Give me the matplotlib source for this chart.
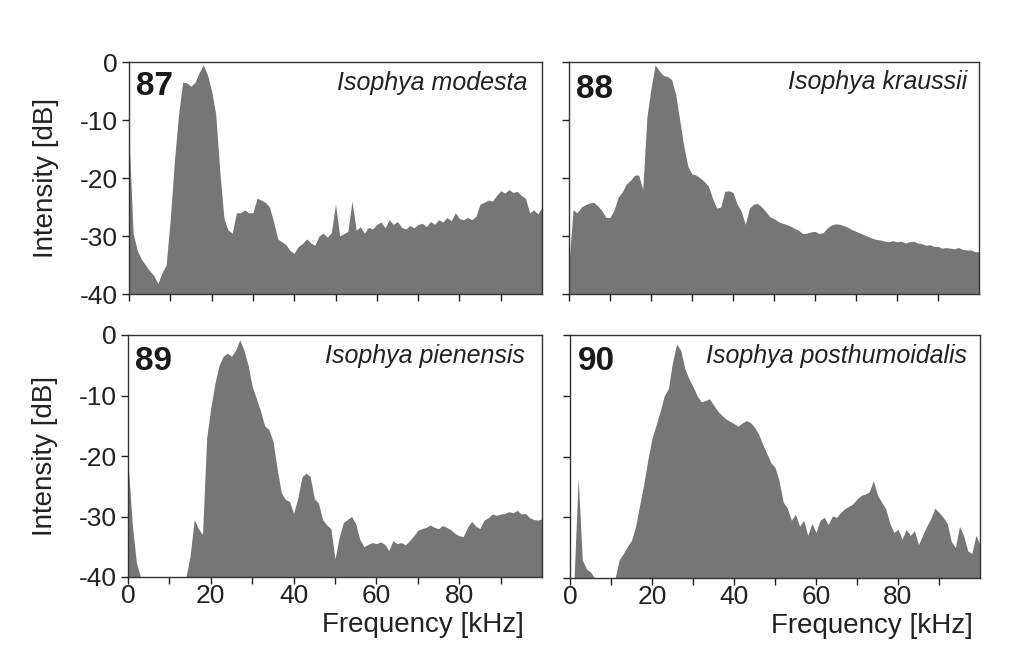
import numpy as np
import matplotlib
matplotlib.use("Agg")
import matplotlib.pyplot as plt

plt.rcParams['font.family'] = ['Liberation Sans', 'DejaVu Sans']
plt.rcParams['axes.unicode_minus'] = False

# frequency grid, kHz (one reading per kHz)
freq = np.arange(0, 101)

# 87 - Isophya modesta
modesta = [-13, -29.5, -32.5, -34, -35, -36, -36.8, -38.2, -36.3, -35,
           -27, -17, -9, -3.5, -3.6, -4.2, -3.5, -1.8, -0.5, -2.2,
           -5, -9, -19, -27, -29, -29.5, -26, -26, -25.5, -26,
           -26, -23.5, -23.8, -24.2, -25, -27.5, -30.5, -31, -31.5, -32.5,
           -33, -31.8, -31.3, -30.5, -31.2, -31.6, -30, -29.5, -30.2, -29.4,
           -24.5, -30, -29.6, -29.2, -24, -29, -28.4, -29.5, -28.5, -28.8,
           -28, -27.6, -28.6, -27.2, -28, -27.5, -28.5, -28.8, -28.2, -28.6,
           -28, -27.8, -28.4, -27.5, -28, -27.2, -27.6, -26.8, -27.4, -26,
           -27, -27.2, -26.8, -27.2, -26.6, -24.5, -24.2, -23.8, -24, -23,
           -22.2, -22.6, -22, -22.5, -22.3, -23, -23.5, -26, -25.5, -26.2,
           -25]

# 88 - Isophya kraussii
kraussii = [-34.5, -25.5, -26, -25, -24.6, -24.3, -24.2, -24.8, -25.6, -26.8,
            -26.8, -25.5, -23.3, -22.4, -21, -20.4, -19.5, -19.5, -22, -9.5,
            -4.5, -0.5, -1.5, -2.3, -2.5, -3, -5.5, -10, -14.5, -18,
            -19.3, -19.5, -20, -20.6, -21.4, -23.5, -25.2, -25, -22.3, -22.2,
            -22.5, -24.5, -25.7, -28, -25.2, -24.5, -24.4, -25, -25.8, -26.7,
            -27, -27.5, -27.8, -28, -28.3, -28.7, -29, -29.6, -29.5, -29.3,
            -29.2, -29.6, -29.4, -28.6, -28.1, -27.9, -28, -28.2, -28.5, -28.9,
            -29.2, -29.5, -29.8, -30.1, -30.4, -30.6, -30.7, -30.9, -31, -30.8,
            -31, -30.9, -31.2, -31, -30.9, -31.2, -31.3, -31.6, -31.5, -31.8,
            -31.8, -32.1, -32, -32.1, -32.2, -32, -32.3, -32.4, -32.4, -32.7,
            -32.7]

# 89 - Isophya pienensis
pienensis = [-21, -31, -37.5, -40, -40, -40, -40, -40, -40, -40,
             -40, -40, -40, -40, -40, -36.5, -30.5, -32, -33, -17,
             -12, -8, -5, -3.5, -3, -3.5, -2.5, -0.8, -2.5, -5,
             -8.5, -10.5, -12.5, -15, -15.6, -17.5, -22, -26, -27.2, -27.5,
             -29.5, -27, -23.5, -22.8, -23.4, -27, -27.8, -30.5, -31.4, -32,
             -37, -33.5, -31, -30.5, -30, -31.2, -33.8, -35, -34.6, -34.3,
             -34.5, -34.2, -34.6, -35.6, -34, -34.5, -34.3, -34.7, -34, -33.2,
             -32.3, -32, -31.8, -31.4, -31.8, -32, -31.5, -31.8, -32.2, -32.8,
             -33.2, -33.3, -31.8, -30.8, -31.6, -32, -30.6, -30.2, -29.6, -29.8,
             -29.6, -29.5, -29.2, -29.4, -29, -29.6, -29.5, -30.2, -30.5, -30.6,
             -30.4]

# 90 - Isophya posthumoidalis
posthumoidalis = [-40, -40, -23.5, -37, -38.5, -39, -40, -40, -40, -40,
                  -40, -40, -37, -36, -34.8, -33.8, -31.5, -28, -24.5, -20.5,
                  -17, -14.8, -12.5, -10, -8.8, -4.5, -1.5, -2.5, -5.5, -7.2,
                  -8.5, -10, -11, -10.8, -10.5, -11.5, -12.5, -13.2, -13.8, -14.2,
                  -14.6, -15, -14.5, -14.1, -14.4, -15.2, -16.3, -18, -19.5, -21,
                  -21.8, -24, -27.5, -28.5, -30.5, -29.5, -31.5, -30.5, -33, -31,
                  -32.5, -30.5, -30, -31.2, -29.8, -30, -29.2, -28.6, -28.2, -27.8,
                  -27, -26.4, -26.2, -25.8, -24, -26.4, -27.5, -28.6, -31, -32.5,
                  -32, -33.6, -32, -33, -32.2, -34.5, -33, -31.5, -30.2, -28.5,
                  -29.2, -30, -31, -34, -35, -31.5, -33, -35.5, -36, -33,
                  -34.5]

numbers = ['87', '88', '89', '90']
species = ['Isophya modesta', 'Isophya kraussii',
           'Isophya pienensis', 'Isophya posthumoidalis']
spectra = [modesta, kraussii, pienensis, posthumoidalis]

fill_col = '#767676'
W, H = 1019, 647

# axes boxes in pixels: left, right, top, bottom
boxes = [(129, 542, 62, 294), (569, 979, 62, 294),
         (128, 542, 335, 577), (570, 980, 335, 578)]
# baseline y (axes frac) of number and species name
num_y = [0.858, 0.845, 0.855, 0.855]
sp_x = [0.964, 0.97, 0.959, 0.968]
sp_y = [0.88, 0.884, 0.884, 0.884]

fig = plt.figure(figsize=(W / 100, H / 100), dpi=100)

for i in range(4):
    l, r, t, b = boxes[i]
    ax = fig.add_axes([l / W, 1 - b / H, (r - l) / W, (b - t) / H])
    ax.fill_between(freq, spectra[i], -40, color=fill_col, linewidth=0)
    ax.set_xlim(0, 100)
    ax.set_ylim(-40, 0)
    ax.set_xticks(np.arange(0, 100, 10))
    ax.set_yticks([-40, -30, -20, -10, 0])
    ax.tick_params(direction='out', length=5, width=1, labelsize=19,
                   colors='#222222', pad=3)
    for s in ax.spines.values():
        s.set_color('#333333')
        s.set_linewidth(1)

    if i % 2 == 0:
        ax.set_yticklabels(['-40', '-30', '-20', '-10', '0'])
        ax.set_ylabel('Intensity [dB]', fontsize=20, color='#222222')
        ax.yaxis.set_label_coords(-0.17, 0.5)
    else:
        ax.set_yticklabels([])
    if i >= 2:
        ax.set_xticklabels(['0', '', '20', '', '40', '', '60', '', '80', ''])
        ax.tick_params(axis='x', pad=0)
        ax.set_xlabel('Frequency [kHz]', fontsize=20, color='#222222')
        ax.xaxis.set_label_coords(0.713 if i == 2 else 0.737, -0.145)
    else:
        ax.set_xticklabels([])

    ax.text(0.018, num_y[i], numbers[i], transform=ax.transAxes,
            fontsize=24, fontweight='bold', color='#1a1a1a',
            ha='left', va='baseline')
    ax.text(sp_x[i], sp_y[i], species[i], transform=ax.transAxes,
            fontsize=18, fontstyle='italic', color='#222222',
            ha='right', va='baseline')

fig.savefig('out.png', dpi=100)
